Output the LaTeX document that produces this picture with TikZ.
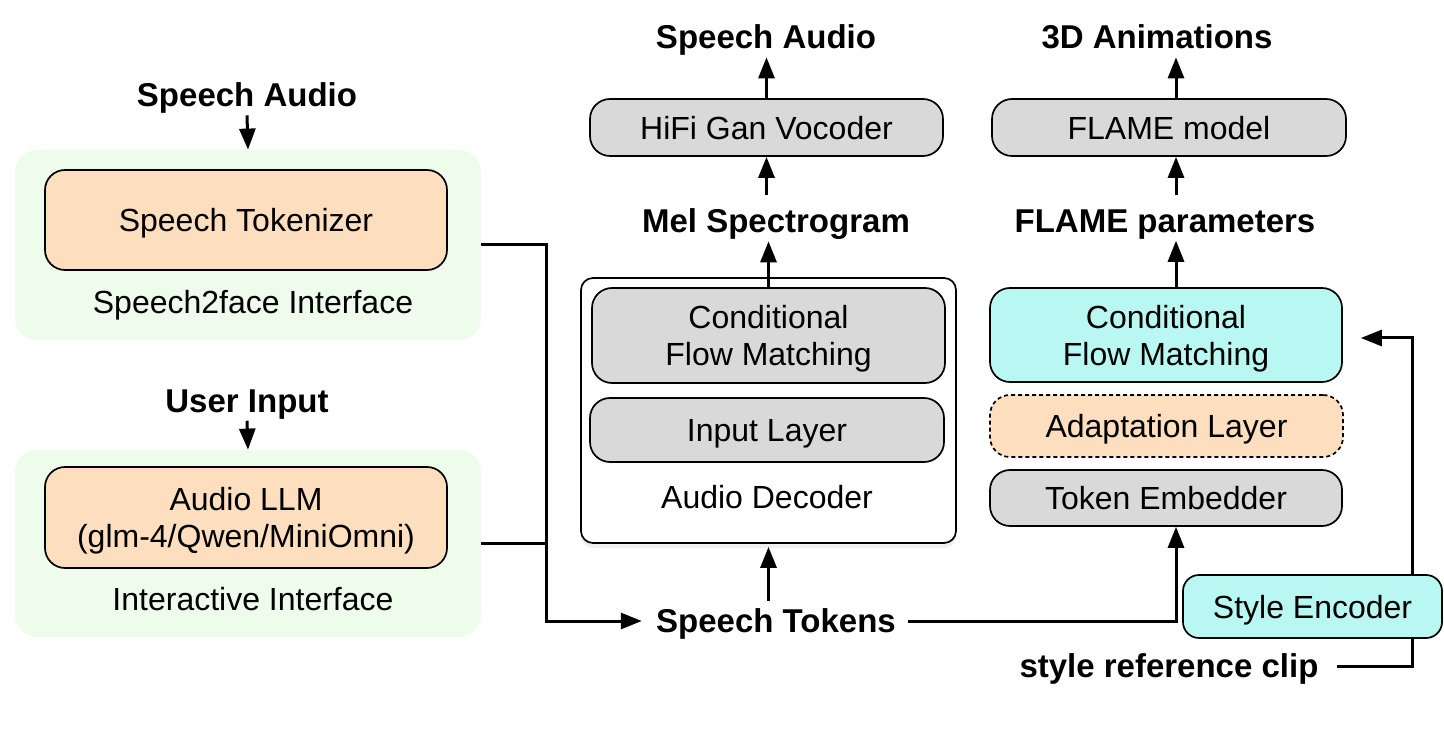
\documentclass[tikz,border=0pt]{standalone}
\usepackage{fontspec}
\setmainfont{Liberation Sans}
\usetikzlibrary{arrows.meta,shadows}
\definecolor{peach}{HTML}{FDDFC0}
\definecolor{mint}{HTML}{EDFCEB}
\definecolor{boxgray}{HTML}{D9D9D9}
\definecolor{aqua}{HTML}{B9F8F2}

\begin{document}
\begin{tikzpicture}[x=0.5pt, y=-0.5pt,
  every node/.style={font=\fontsize{16}{18.5}\selectfont, text depth=0pt},
  sz/.style 2 args={minimum width=#1*0.5pt, minimum height=#2*0.5pt, inner sep=0pt},
  blk/.style={draw=black, line width=0.85pt, rounded corners=10pt, align=center},
  panel/.style={fill=mint, rounded corners=11pt},
  lbl/.style={font=\fontsize{16.5}{19}\selectfont\bfseries, inner sep=4pt},
  wire/.style={line width=1.5pt},
  arr/.style={wire, -{Triangle[width=8pt,length=10.5pt]}}]
  \useasboundingbox (0,0) rectangle (1444,732);

  % interfaces (left)
  \node[panel, sz={466}{190}] (pnlA) at (248,245) {};
  \node[blk, fill=peach, sz={402}{100}] (tok) at (246,220) {Speech Tokenizer};
  \node (nmA) at (253,302) {Speech2face Interface};
  \node[lbl] (inA) at (247,95) {Speech Audio};
  \node[panel, sz={466}{187}] (pnlB) at (248,543.5) {};
  \node[blk, fill=peach, sz={402}{101}] (llm) at (246,517.5) {Audio LLM\\(glm-4/Qwen/MiniOmni)};
  \node (nmB) at (253,599) {Interactive Interface};
  \node[lbl] (inB) at (247,401) {User Input};

  % audio branch
  \node[draw, fill=white, line width=0.85pt, rounded corners=6pt, sz={375}{265},
        drop shadow={opacity=0.12, shadow xshift=0pt, shadow yshift=-2.5pt}] (dec) at (768.5,410.5) {};
  \node[blk, fill=boxgray, sz={353}{95}] (cfmA) at (768.5,335.5) {Conditional\\Flow Matching};
  \node[blk, fill=boxgray, sz={354}{64}] (inl) at (767,430) {Input Layer};
  \node (nmC) at (767,497) {Audio Decoder};
  \node[lbl] (mel) at (776,221) {Mel Spectrogram};
  \node[blk, fill=boxgray, sz={353}{57}] (hifi) at (766.5,127.5) {HiFi Gan Vocoder};
  \node[lbl] (outA) at (766,37) {Speech Audio};
  \node[lbl] (tokens) at (776,621) {Speech Tokens};

  % face branch
  \node[lbl] (outB) at (1157,37) {3D Animations};
  \node[blk, fill=boxgray, sz={354}{57}] (flame) at (1169,127.5) {FLAME model};
  \node[lbl] (par) at (1165,221) {FLAME parameters};
  \node[blk, fill=aqua, sz={352}{94}] (cfmB) at (1166,335) {Conditional\\Flow Matching};
  \node[blk, fill=peach, dash pattern=on 2pt off 1.5pt, sz={353}{62}] (adp) at (1166.5,426) {Adaptation Layer};
  \node[blk, fill=boxgray, sz={352}{56}] (emb) at (1166,498) {Token Embedder};
  \node[blk, fill=aqua, rounded corners=8pt, sz={259}{63}] (sty) at (1312.5,606.5) {Style Encoder};
  \node[lbl] (clip) at (1169,666) {style reference clip};

  % inputs
  \draw[arr] (inA.south) -- (pnlA.north);
  \draw[arr] (inB.south) -- (pnlB.north);
  \coordinate (bus) at (546,621);
  \draw[arr, shorten >=3pt] (pnlA.east) -| (bus) -- (tokens.west);
  \draw[wire] (pnlB.east) -- (pnlB.east -| bus);

  % audio path
  \draw[arr, shorten >=1.5pt] (tokens.north -| dec.south) -- (dec.south);
  \foreach \a/\b in {cfmA.north/mel.south, hifi.north/outA.south}
    \draw[arr] (\a) -- (\a |- \b);
  \draw[arr, shorten <=3pt] (mel.north -| hifi.south) -- (hifi.south);

  % face path
  \draw[arr, shorten <=2pt] (tokens.east) -| ([xshift=5pt]emb.south);
  \draw[arr] ([xshift=5pt]cfmB.north) -- ([xshift=5pt]cfmB.north |- par.south);
  \draw[arr, shorten <=3pt] ([xshift=3.5pt]flame.south |- par.north) -- ([xshift=3.5pt]flame.south);
  \draw[arr] ([xshift=3.5pt]flame.north) -- ([xshift=3.5pt]flame.north |- outB.south);
  \draw[wire, shorten <=5pt] (clip.east) -| ([xshift=50pt]sty.south);
  \draw[arr] ([xshift=50pt]sty.north) |- ([xshift=9pt,yshift=-1.5pt]cfmB.east);
\end{tikzpicture}
\end{document}
